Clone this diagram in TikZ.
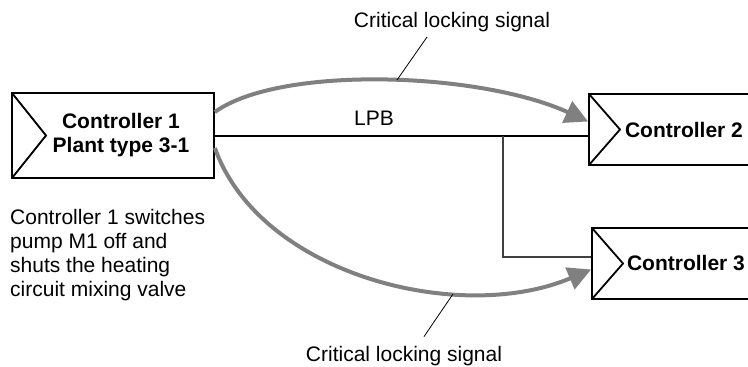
\documentclass[tikz,border=0pt]{standalone}
\usepackage{fontspec}
\setmainfont{Liberation Sans}
\usetikzlibrary{arrows.meta}

\begin{document}
\begin{tikzpicture}[
    x=1pt, y=-1pt,
    every node/.style={font=\fontsize{21}{24}\selectfont, inner sep=0pt},
    boxtext/.style={font=\fontsize{21}{24}\selectfont\bfseries},
    ctrl/.style={draw, line width=1.8pt, rectangle, minimum height=71pt,
        path picture={\draw[line width=1.8pt] (path picture bounding box.north west)
            -- ([xshift=#1]path picture bounding box.west) -- (path picture bounding box.south west);}},
    ctrl/.default=31pt,
    bus/.style={line width=2pt},
    branch/.style={line width=1.2pt, black!75},
    lock/.style={-{Triangle[length=23pt,width=23pt]}, line width=4pt, black!50},
    leader/.style={line width=0.8pt}
]
\useasboundingbox (0,0) rectangle (748,367);

% controllers
\node[ctrl=34pt, minimum width=202pt, minimum height=85pt,
    label={[boxtext, align=center, xshift=8pt]center:Controller 1\\Plant type 3-1}] (c1) at (113,135.5) {};
\node[ctrl, boxtext, minimum width=190pt] (c2) at (684,129.5) {Controller 2};
\node[ctrl, boxtext, minimum width=188pt] (c3) at (686,263.5) {Controller 3};

% bus
\draw[bus] (c1.east) -- (c1.east -| c2.west);
\coordinate (tap) at (503,257);
\draw[branch] (tap |- c1.east) -- (tap) -- (tap -| c3.west);
\node[anchor=base] (lpb) at (374,125) {LPB};

% locking signals
\draw[lock] ([yshift=23.5pt]c1.east) .. controls (280,65) and (480,72) .. ([yshift=8pt]c2.west);
\draw[lock] ([yshift=-12.5pt]c1.east) .. controls (260,275) and (460,325) .. ([yshift=-6pt]c3.west);

\node[anchor=base] (sigtop) at (452,27) {Critical locking signal};
\node[anchor=base] (sigbot) at (404,361) {Critical locking signal};
\coordinate (topmark) at (397,80);
\coordinate (botmark) at (453,294);
\draw[leader] ([xshift=-25pt,yshift=-5.5pt]sigtop.south) -- (topmark);
\draw[leader] ([xshift=20pt,yshift=9pt]sigbot.north) -- (botmark);

% note
\node[anchor=north west, align=left] (note) at (10,209) {Controller 1 switches\\pump M1 off and\\shuts the heating\\circuit mixing valve};
\end{tikzpicture}
\end{document}
